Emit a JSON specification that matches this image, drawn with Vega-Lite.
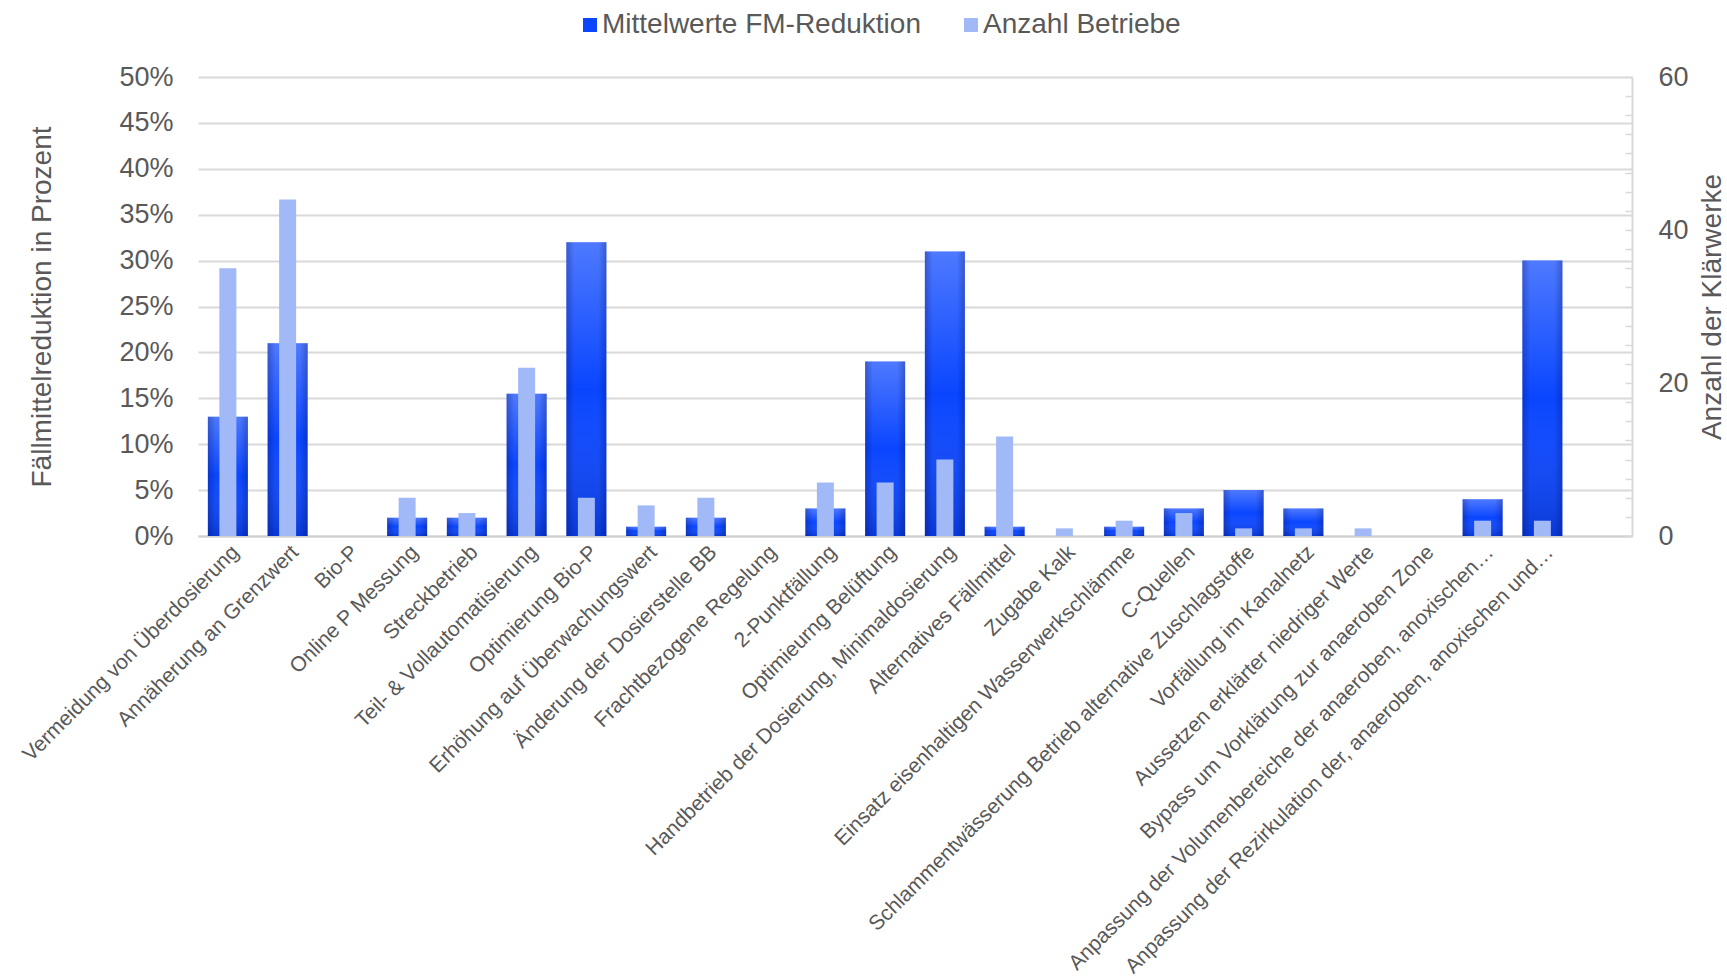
{
  "$schema": "https://vega.github.io/schema/vega-lite/v6.json",
  "width": 1434,
  "height": 459,
  "autosize": {"type": "none"},
  "padding": {"left": 198, "top": 77, "right": 95, "bottom": 440},
  "background": "white",
  "config": {
    "view": {"stroke": null},
    "font": "Liberation Sans",
    "axis": {"labelFont": "Liberation Sans", "titleFont": "Liberation Sans", "labelColor": "#595959", "titleColor": "#595959", "titleFontWeight": "normal"},
    "legend": {"labelFont": "Liberation Sans", "labelColor": "#595959"}
  },
  "data": {
    "values": [
      {"cat": "Vermeidung von Überdosierung", "fm": 0.13, "n": 35},
      {"cat": "Annäherung an Grenzwert", "fm": 0.21, "n": 44},
      {"cat": "Bio-P", "fm": 0, "n": 0},
      {"cat": "Online P Messung", "fm": 0.02, "n": 5},
      {"cat": "Streckbetrieb", "fm": 0.02, "n": 3},
      {"cat": "Teil- & Vollautomatisierung", "fm": 0.155, "n": 22},
      {"cat": "Optimierung Bio-P", "fm": 0.32, "n": 5},
      {"cat": "Erhöhung auf Überwachungswert", "fm": 0.01, "n": 4},
      {"cat": "Änderung der Dosierstelle BB", "fm": 0.02, "n": 5},
      {"cat": "Frachtbezogene Regelung", "fm": 0, "n": 0},
      {"cat": "2-Punktfällung", "fm": 0.03, "n": 7},
      {"cat": "Optimieurng Belüftung", "fm": 0.19, "n": 7},
      {"cat": "Handbetrieb der Dosierung, Minimaldosierung", "fm": 0.31, "n": 10},
      {"cat": "Alternatives Fällmittel", "fm": 0.01, "n": 13},
      {"cat": "Zugabe Kalk", "fm": 0, "n": 1},
      {"cat": "Einsatz eisenhaltigen Wasserwerkschlämme", "fm": 0.01, "n": 2},
      {"cat": "C-Quellen", "fm": 0.03, "n": 3},
      {"cat": "Schlammentwässerung Betrieb alternative Zuschlagstoffe", "fm": 0.05, "n": 1},
      {"cat": "Vorfällung im Kanalnetz", "fm": 0.03, "n": 1},
      {"cat": "Aussetzen erklärter niedriger Werte", "fm": 0, "n": 1},
      {"cat": "Bypass um Vorklärung zur anaeroben Zone", "fm": 0, "n": 0},
      {"cat": "Anpassung der Volumenbereiche der anaeroben, anoxischen…", "fm": 0.04, "n": 2},
      {"cat": "Anpassung der Rezirkulation der, anaeroben, anoxischen und…", "fm": 0.30, "n": 2}
    ]
  },
  "encoding": {
    "x": {
      "field": "cat",
      "type": "nominal",
      "sort": null,
      "scale": {
        "domain": ["Vermeidung von Überdosierung", "Annäherung an Grenzwert", "Bio-P", "Online P Messung", "Streckbetrieb", "Teil- & Vollautomatisierung", "Optimierung Bio-P", "Erhöhung auf Überwachungswert", "Änderung der Dosierstelle BB", "Frachtbezogene Regelung", "2-Punktfällung", "Optimieurng Belüftung", "Handbetrieb der Dosierung, Minimaldosierung", "Alternatives Fällmittel", "Zugabe Kalk", "Einsatz eisenhaltigen Wasserwerkschlämme", "C-Quellen", "Schlammentwässerung Betrieb alternative Zuschlagstoffe", "Vorfällung im Kanalnetz", "Aussetzen erklärter niedriger Werte", "Bypass um Vorklärung zur anaeroben Zone", "Anpassung der Volumenbereiche der anaeroben, anoxischen…", "Anpassung der Rezirkulation der, anaeroben, anoxischen und…", " "],
        "paddingInner": 0,
        "paddingOuter": 0
      },
      "axis": {
        "title": null,
        "labelAngle": -45,
        "labelAlign": "right",
        "labelBaseline": "top",
        "labelFontSize": 21,
        "labelLimit": 0,
        "labelPadding": 5,
        "ticks": false,
        "domainColor": "#cfcfcf",
        "domainWidth": 2,
        "grid": false
      }
    }
  },
  "layer": [
    {
      "encoding": {
        "y": {
          "field": "fm", "type": "quantitative",
          "scale": {"domain": [0, 0.5], "nice": false},
          "axis": {
            "orient": "left",
            "values": [0, 0.05, 0.1, 0.15, 0.2, 0.25, 0.3, 0.35, 0.4, 0.45, 0.5],
            "format": ".0%",
            "grid": true, "gridColor": "#d9d9d9", "gridWidth": 2,
            "domain": false, "ticks": false,
            "labelFontSize": 27, "labelPadding": 25,
            "title": "Fällmittelreduktion in Prozent",
            "titleFontSize": 28,
            "titleX": -156, "titleY": 229.5, "titleAngle": 270,
            "titleAlign": "center", "titleBaseline": "middle"
          }
        }
      },
      "layer": [
        {
          "mark": {"type": "bar", "width": 40},
          "encoding": {
            "color": {
              "datum": "Mittelwerte FM-Reduktion",
              "type": "nominal",
              "scale": {"domain": ["Mittelwerte FM-Reduktion", "Anzahl Betriebe"], "range": ["#0a46ff", "#a2b9f8"]},
              "legend": {
                "title": null,
                "orient": "none",
                "direction": "horizontal",
                "legendX": 378,
                "legendY": -66,
                "padding": 0,
                "labelFontSize": 28,
                "labelLimit": 0,
                "labelOffset": -2,
                "columnPadding": 36,
                "symbolType": "square",
                "symbolSize": 196,
                "symbolStrokeWidth": 0
              }
            }
          }
        },
        {
          "mark": {
            "type": "bar", "width": 40,
            "fill": {"gradient": "linear", "x1": 0, "y1": 0, "x2": 0, "y2": 1,
              "stops": [
                {"offset": 0, "color": "rgba(255,255,255,0.28)"},
                {"offset": 0.5, "color": "rgba(255,255,255,0)"},
                {"offset": 1, "color": "rgba(0,0,50,0.2)"}
              ]}
          }
        },
        {
          "mark": {
            "type": "bar", "width": 40,
            "fill": {"gradient": "linear", "x1": 0, "y1": 0, "x2": 1, "y2": 0,
              "stops": [
                {"offset": 0, "color": "rgba(0,0,60,0.25)"},
                {"offset": 0.2, "color": "rgba(0,0,60,0)"},
                {"offset": 0.8, "color": "rgba(0,0,60,0)"},
                {"offset": 1, "color": "rgba(0,0,60,0.25)"}
              ]}
          }
        }
      ]
    },
    {
      "mark": {"type": "bar", "width": 17},
      "encoding": {
        "y": {
          "field": "n", "type": "quantitative",
          "scale": {"domain": [0, 60], "nice": false},
          "axis": {
            "orient": "right",
            "values": [0, 2.5, 5, 7.5, 10, 12.5, 15, 17.5, 20, 22.5, 25, 27.5, 30, 32.5, 35, 37.5, 40, 42.5, 45, 47.5, 50, 52.5, 55, 57.5, 60],
            "labelExpr": "datum.value % 20 === 0 ? datum.label : ''",
            "grid": false,
            "domain": true, "domainColor": "#d9d9d9", "domainWidth": 2,
            "ticks": true, "tickColor": "#d9d9d9", "tickWidth": 1.5, "tickSize": -7,
            "labelFontSize": 27, "labelPadding": 33,
            "title": "Anzahl der Klärwerke",
            "titleFontSize": 28,
            "titleX": 80, "titleY": 229.5, "titleAngle": 270,
            "titleAlign": "center", "titleBaseline": "middle"
          }
        },
        "color": {"datum": "Anzahl Betriebe", "type": "nominal"}
      }
    }
  ],
  "resolve": {"scale": {"y": "independent"}}
}
